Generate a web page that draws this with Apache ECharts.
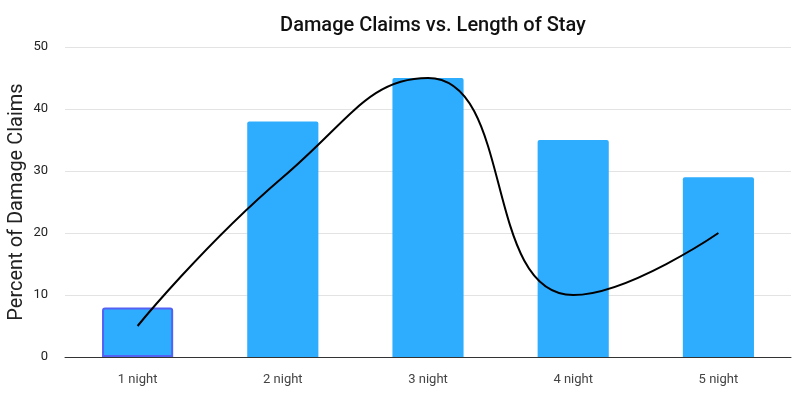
<!DOCTYPE html>
<html>
<head>
<meta charset="utf-8">
<script src="https://cdn.jsdelivr.net/npm/echarts@6/dist/echarts.min.js"></script>
<style>
  html, body { margin: 0; padding: 0; background: #fff; }
  #chart01 { width: 807px; height: 399px; }
</style>
</head>
<body>
<div id="chart01"></div>
<script>
// data
var categories = ['1 night', '2 night', '3 night', '4 night', '5 night'];
var claimBars = [8, 38, 45, 35, 29];
var trendLine = [5, 29, 45, 10, 20];
var yTicks = [0, 10, 20, 30, 40, 50];

var myChart = echarts.init(document.getElementById('chart01'));

var barData = claimBars.map(function (v, i) {
    if (i === 0) {
        // first bar is shown selected
        return {
            value: v,
            itemStyle: { borderColor: '#5462f4', borderWidth: 2 }
        };
    }
    return v;
});

var option = {
    animation: false,
    textStyle: { fontFamily: 'Roboto' },
    title: {
        text: 'Damage Claims vs. Length of Stay',
        left: 428,
        textAlign: 'center',
        top: 11,
        textStyle: { fontSize: 20, fontWeight: 500, color: '#111' }
    },
    grid: {
        left: 65,
        right: 16,
        top: 47,
        bottom: 42,
        containLabel: false,
        outerBoundsMode: 'none'
    },
    xAxis: {
        type: 'category',
        data: categories,
        axisLine: { lineStyle: { color: '#333', width: 1 } },
        axisTick: { show: false },
        axisLabel: { color: '#444', fontSize: 13, margin: 16 }
    },
    yAxis: {
        type: 'value',
        name: 'Percent of Damage Claims',
        nameLocation: 'middle',
        nameGap: 38,
        nameMoveOverlap: false,
        nameTextStyle: { fontSize: 20, color: '#222' },
        min: yTicks[0],
        max: yTicks[yTicks.length - 1],
        interval: 10,
        axisLine: { show: false },
        axisTick: { show: false },
        axisLabel: { color: '#222', fontSize: 13, margin: 17 },
        splitLine: { lineStyle: { color: '#e3e3e3' } }
    },
    series: [
        {
            name: 'Damage Claims',
            type: 'bar',
            barWidth: '49%',
            data: barData,
            itemStyle: { color: '#2eadff', borderRadius: [2, 2, 0, 0] }
        },
        {
            name: 'Trend',
            type: 'line',
            smooth: 0.5,
            symbol: 'none',
            data: trendLine,
            lineStyle: { color: '#000', width: 2 }
        }
    ]
};

if (option && typeof option === "object") {
    myChart.setOption(option, true);
}
</script>
</body>
</html>
